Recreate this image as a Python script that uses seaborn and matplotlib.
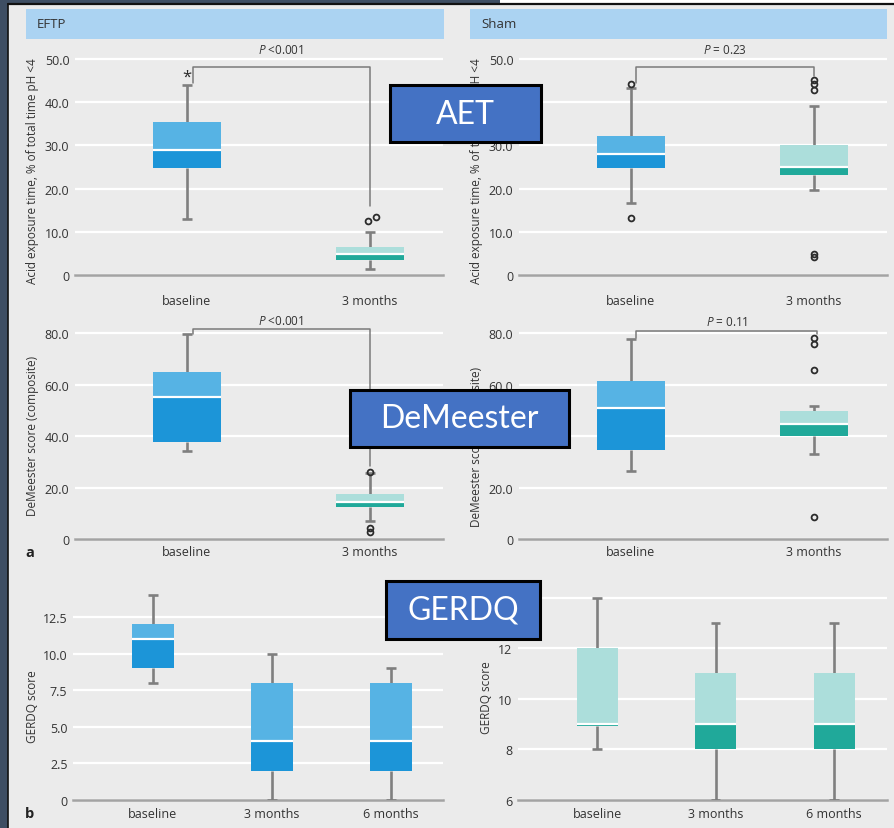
import numpy as np
import matplotlib
matplotlib.use("Agg")
import matplotlib.pyplot as plt
import seaborn as sns
from matplotlib.patches import Rectangle

# ---------------- data ----------------
two_timepoints = ["baseline", "3 months"]
three_timepoints = ["baseline", "3 months", "6 months"]

# Acid exposure time (% of total time pH < 4)
aet_eftp_low = [13.0, 1.4]
aet_eftp_q1 = [24.8, 3.5]
aet_eftp_med = [29.0, 4.8]
aet_eftp_q3 = [35.4, 6.5]
aet_eftp_high = [44.0, 10.0]
aet_eftp_out_pos = [0.99, 1.035]
aet_eftp_out_val = [12.5, 13.4]
aet_eftp_star_val = 46.0

aet_sham_low = [16.7, 19.7]
aet_sham_q1 = [24.8, 23.1]
aet_sham_med = [28.0, 25.0]
aet_sham_q3 = [32.2, 30.1]
aet_sham_high = [43.3, 39.1]
aet_sham_out_pos = [0, 0, 1, 1, 1, 1, 1]
aet_sham_out_val = [44.2, 13.2, 45.1, 44.2, 42.9, 4.9, 4.2]

# DeMeester composite score
dm_eftp_low = [34.2, 7.0]
dm_eftp_q1 = [37.7, 12.4]
dm_eftp_med = [55.2, 14.2]
dm_eftp_q3 = [64.9, 17.5]
dm_eftp_high = [79.6, 25.6]
dm_eftp_out_pos = [1, 1, 1]
dm_eftp_out_val = [26.0, 4.4, 2.8]

dm_sham_low = [26.4, 33.0]
dm_sham_q1 = [34.6, 40.0]
dm_sham_med = [50.9, 44.7]
dm_sham_q3 = [61.4, 49.7]
dm_sham_high = [77.7, 51.7]
dm_sham_out_pos = [1, 1, 1, 1]
dm_sham_out_val = [78.0, 75.6, 65.6, 8.5]

# GERDQ score
gq_eftp_low = [8.0, 0.0, 0.0]
gq_eftp_q1 = [9.0, 2.0, 2.0]
gq_eftp_med = [11.0, 4.0, 4.0]
gq_eftp_q3 = [12.0, 8.0, 8.0]
gq_eftp_high = [14.0, 10.0, 9.0]

gq_sham_low = [8.0, 6.0, 6.0]
gq_sham_q1 = [8.93, 8.0, 8.0]
gq_sham_med = [9.0, 9.0, 9.0]
gq_sham_q3 = [12.0, 11.0, 11.0]
gq_sham_high = [14.0, 13.0, 13.0]

# ---------------- style ----------------
BG = "#ebebeb"
BLUE_LO, BLUE_HI = "#1c95d8", "#56b3e4"
TEAL_LO, TEAL_HI = "#20a99a", "#acdedb"
WHISKER = "#7f7f7f"
TEXT = "#333333"

sns.set_theme(style="darkgrid", rc={
    "axes.facecolor": BG,
    "figure.facecolor": BG,
    "grid.color": "white",
    "grid.linewidth": 1.6,
})
plt.rcParams["font.family"] = ["Open Sans", "DejaVu Sans"]
plt.rcParams["mathtext.fontset"] = "custom"
plt.rcParams["mathtext.rm"] = "Open Sans"
plt.rcParams["mathtext.it"] = "Open Sans:italic"

W, H = 894, 829
fig = plt.figure(figsize=(W / 100, H / 100), dpi=100)


def rect(x0, y0, x1, y1):
    """Pixel box (top-left origin) to figure fraction."""
    return [x0 / W, 1 - y1 / H, (x1 - x0) / W, (y1 - y0) / H]


def make_axes(box, ylim, xlim, yticks, ylabels, xlabels, xpad):
    ax = fig.add_axes(rect(*box))
    ax.set_xlim(*xlim)
    ax.set_ylim(*ylim)
    ax.set_yticks(yticks)
    ax.set_yticklabels(ylabels)
    ax.set_xticks(range(len(xlabels)))
    ax.set_xticklabels(xlabels)
    ax.grid(axis="x", visible=False)
    ax.grid(axis="y", visible=True)
    for s in ["top", "right", "left"]:
        ax.spines[s].set_visible(False)
    ax.spines["bottom"].set_visible(True)
    ax.spines["bottom"].set_color("#a3a3a3")
    ax.spines["bottom"].set_linewidth(1.8)
    ax.spines["bottom"].set_zorder(1.5)
    ax.tick_params(axis="both", length=0, labelsize=9, labelcolor=TEXT)
    ax.tick_params(axis="y", pad=4)
    ax.tick_params(axis="x", pad=xpad)
    return ax


def draw_boxes(ax, lows, q1s, meds, q3s, highs, lo_cols, hi_cols, width, cap):
    x = np.arange(len(meds))
    ax.vlines(x, q3s, highs, color=WHISKER, lw=1.9, zorder=2)
    ax.vlines(x, lows, q1s, color=WHISKER, lw=1.9, zorder=2)
    ax.hlines(highs, x - cap, x + cap, color=WHISKER, lw=1.9, zorder=2)
    ax.hlines(lows, x - cap, x + cap, color=WHISKER, lw=1.9, zorder=2)
    ax.bar(x, np.subtract(meds, q1s), bottom=q1s, width=width,
           color=lo_cols, linewidth=0, zorder=3)
    ax.bar(x, np.subtract(q3s, meds), bottom=meds, width=width,
           color=hi_cols, linewidth=0, zorder=3)
    ax.hlines(meds, x - width / 2, x + width / 2, color="white", lw=1.6, zorder=4)


def draw_outliers(ax, pos, vals):
    ax.plot(pos, vals, "o", ms=4.2, mfc="none", mec="#2b2b2b", mew=1.3,
            zorder=5, clip_on=False)


def bracket(ax, x0, x1, top, left_end, right_end, label, label_y):
    ax.plot([x0, x0, x1, x1], [left_end, top, top, right_end],
            color="#7a7a7a", lw=1.1, zorder=2, clip_on=False)
    ax.text((x0 + x1) / 2, label_y, label, ha="center", va="center",
            fontsize=8.5, color=TEXT, clip_on=False)


two_lo = [BLUE_LO, TEAL_LO]
two_hi = [BLUE_HI, TEAL_HI]
xlim2 = (-0.612, 1.4)

# ---- Acid exposure time ----
aet_ticks = [0, 10, 20, 30, 40, 50]
aet_labels = ["0", "10.0", "20.0", "30.0", "40.0", "50.0"]

ax1 = make_axes((75, 47, 443, 276), (0, 53), xlim2, aet_ticks, aet_labels,
                two_timepoints, 14)
draw_boxes(ax1, aet_eftp_low, aet_eftp_q1, aet_eftp_med, aet_eftp_q3,
           aet_eftp_high, two_lo, two_hi, 0.372, 0.028)
draw_outliers(ax1, aet_eftp_out_pos, aet_eftp_out_val)
ax1.text(0, aet_eftp_star_val, "*", ha="center", va="center", fontsize=12,
         color="#2b2b2b", zorder=5)
bracket(ax1, 0.033, 1.0, 48.1, 44.4, 16.0, "$P$ <0.001", 52.1)

ax2 = make_axes((519, 47, 887, 276), (0, 53), xlim2, aet_ticks, aet_labels,
                two_timepoints, 14)
draw_boxes(ax2, aet_sham_low, aet_sham_q1, aet_sham_med, aet_sham_q3,
           aet_sham_high, two_lo, two_hi, 0.372, 0.028)
draw_outliers(ax2, aet_sham_out_pos, aet_sham_out_val)
bracket(ax2, 0.027, 1.0, 48.1, 44.4, 46.0, "$P$ = 0.23", 52.1)

# ---- DeMeester score ----
dm_ticks = [0, 20, 40, 60, 80]
dm_labels = ["0", "20.0", "40.0", "60.0", "80.0"]

ax3 = make_axes((75, 316, 443, 540), (0, 87), xlim2, dm_ticks, dm_labels,
                two_timepoints, 4)
draw_boxes(ax3, dm_eftp_low, dm_eftp_q1, dm_eftp_med, dm_eftp_q3,
           dm_eftp_high, two_lo, two_hi, 0.372, 0.028)
draw_outliers(ax3, dm_eftp_out_pos, dm_eftp_out_val)
bracket(ax3, 0.033, 1.0, 81.6, 79.6, 28.3, "$P$ <0.001", 85.0)

ax4 = make_axes((519, 316, 887, 540), (0, 87), xlim2, dm_ticks, dm_labels,
                two_timepoints, 4)
draw_boxes(ax4, dm_sham_low, dm_sham_q1, dm_sham_med, dm_sham_q3,
           dm_sham_high, two_lo, two_hi, 0.372, 0.028)
draw_outliers(ax4, dm_sham_out_pos, dm_sham_out_val)
bracket(ax4, 0.027, 1.02, 80.8, 78.0, 79.6, "$P$ = 0.11", 84.3)

# ---- GERDQ score ----
ax5 = make_axes((73, 585, 443, 801), (0, 14.75), (-0.672, 2.437),
                [0, 2.5, 5, 7.5, 10, 12.5],
                ["0", "2.5", "5.0", "7.5", "10.0", "12.5"],
                three_timepoints, 5)
draw_boxes(ax5, gq_eftp_low, gq_eftp_q1, gq_eftp_med, gq_eftp_q3,
           gq_eftp_high, [BLUE_LO] * 3, [BLUE_HI] * 3, 0.345, 0.04)

ax6 = make_axes((518, 591, 887, 801), (6, 14.3), (-0.667, 2.447),
                [6, 8, 10, 12, 14], ["6", "8", "10", "12", "14"],
                three_timepoints, 5)
draw_boxes(ax6, gq_sham_low, gq_sham_q1, gq_sham_med, gq_sham_q3,
           gq_sham_high, [TEAL_LO] * 3, [TEAL_HI] * 3, 0.346, 0.04)

# ---- axis titles ----
ylab_kw = dict(rotation=90, ha="center", va="center", fontsize=8.5, color=TEXT)
fig.text(33 / W, 1 - 171 / H, "Acid exposure time, % of total time pH <4", **ylab_kw)
fig.text(476 / W, 1 - 171 / H, "Acid exposure time, % of total time pH <4", **ylab_kw)
fig.text(33 / W, 1 - 436 / H, "DeMeester score (composite)", **ylab_kw)
fig.text(476 / W, 1 - 447 / H, "DeMeester score (composite)", **ylab_kw)
fig.text(33 / W, 1 - 707 / H, "GERDQ score", **ylab_kw)
fig.text(486 / W, 1 - 698 / H, "GERDQ score", **ylab_kw)

fig.text(30 / W, 1 - 553 / H, "a", fontsize=10.5, fontweight="bold",
         color="#222222", ha="center", va="center")
fig.text(30 / W, 1 - 814 / H, "b", fontsize=10.5, fontweight="bold",
         color="#222222", ha="center", va="center")

# ---- group headers ----
for x0, x1, name in [(26, 444, "EFTP"), (470, 887, "Sham")]:
    fig.patches.append(Rectangle((x0 / W, 1 - 40 / H), (x1 - x0) / W, 30 / H,
                                 transform=fig.transFigure, facecolor="#abd3f2",
                                 edgecolor="none", zorder=1))
    fig.text((x0 + 11) / W, 1 - 25 / H, name, fontsize=9.5, color=TEXT,
             ha="left", va="center")

# ---- page frame ----
fig.patches.append(Rectangle((0, 0), 8 / W, 1, transform=fig.transFigure,
                             facecolor="#3e4e63", edgecolor="none", zorder=0))
fig.patches.append(Rectangle((0, 1 - 5 / H), 500 / W, 5 / H,
                             transform=fig.transFigure, facecolor="#3e4e63",
                             edgecolor="none", zorder=0))
fig.patches.append(Rectangle((500 / W, 1 - 5 / H), (W - 500) / W, 5 / H,
                             transform=fig.transFigure, facecolor="white",
                             edgecolor="none", zorder=0))
fig.lines.append(plt.Line2D([8 / W, 8 / W], [0, 1 - 5 / H],
                            transform=fig.transFigure, color="#111111", lw=1.2))
fig.lines.append(plt.Line2D([8 / W, 1], [1 - 5 / H, 1 - 5 / H],
                            transform=fig.transFigure, color="#111111", lw=1.6))

# ---- section tags ----
for x0, y0, x1, y1, tag in [(390, 86, 541, 143, "AET"),
                            (350, 391, 569, 448, "DeMeester"),
                            (386, 582, 540, 640, "GERDQ")]:
    fig.patches.append(Rectangle((x0 / W, 1 - y1 / H), (x1 - x0) / W,
                                 (y1 - y0) / H, transform=fig.transFigure,
                                 facecolor="#4472c4", edgecolor="black",
                                 linewidth=2.2, zorder=10))
    fig.text((x0 + x1) / 2 / W, 1 - (y0 + y1) / 2 / H, tag, fontsize=23,
             color="white", ha="center", va="center", zorder=11,
             family=["Lato", "DejaVu Sans"])

fig.savefig("out.png", dpi=100, facecolor=BG)
